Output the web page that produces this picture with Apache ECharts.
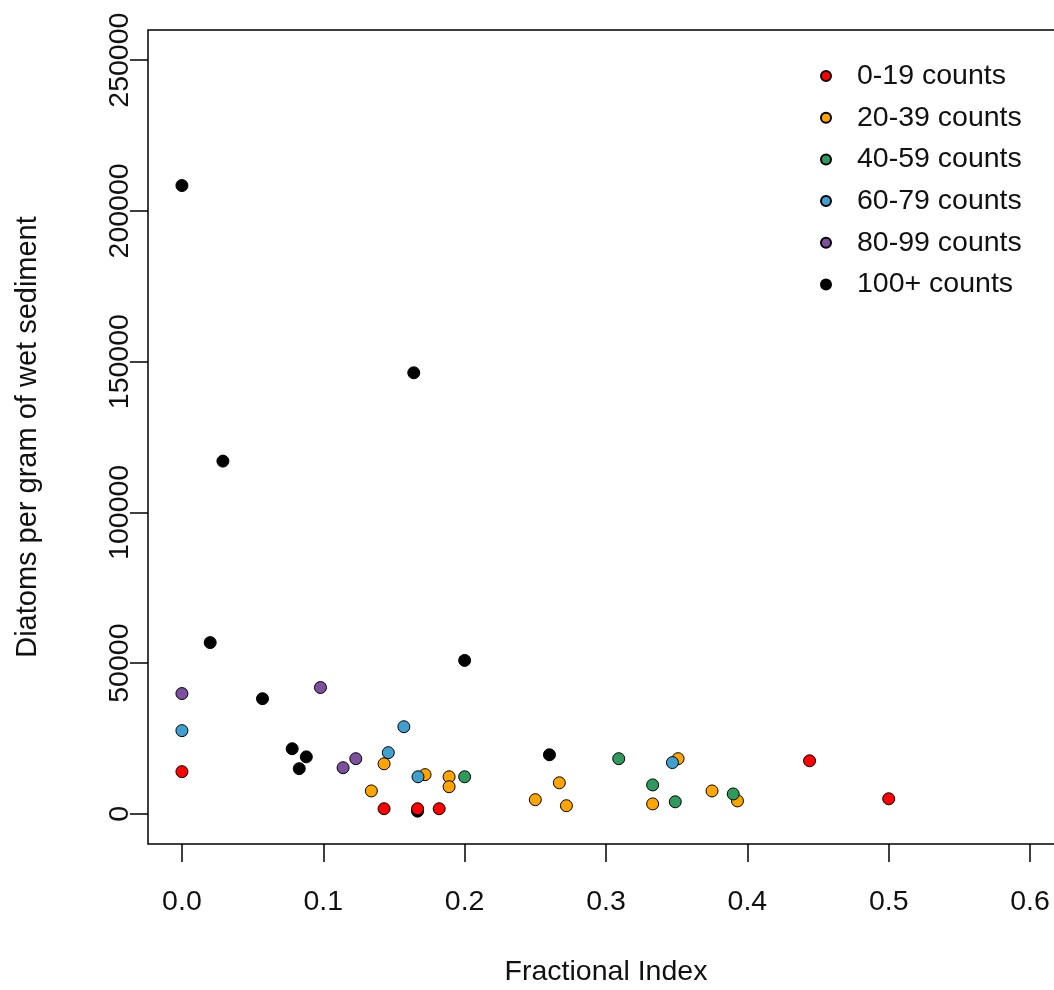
<!DOCTYPE html>
<html>
<head>
<meta charset="utf-8">
<script src="https://cdn.jsdelivr.net/npm/echarts@6/dist/echarts.min.js"></script>
<style>
  html, body { margin: 0; padding: 0; background: #fff; }
  #chart { width: 1054px; height: 990px; }
</style>
</head>
<body>
<div id="chart"></div>
<script>
// Count classes and their colours (legend order)
const classNames = ['0-19 counts', '20-39 counts', '40-59 counts', '60-79 counts', '80-99 counts', '100+ counts'];
const classColors = ['#ff0000', '#ffa500', '#2e9a5c', '#3f9fce', '#7d4f9f', '#000000'];

// [fractional index, diatoms per gram of wet sediment]
const counts0to19 = [[0, 14000], [0.143, 1700], [0.1667, 1700], [0.182, 1700], [0.444, 17600], [0.5, 5000]];
const counts20to39 = [[0.134, 7600], [0.143, 16600], [0.172, 13000], [0.189, 12300], [0.189, 9000], [0.25, 4700],
  [0.267, 10300], [0.272, 2700], [0.333, 3300], [0.351, 18300], [0.375, 7600], [0.393, 4300]];
const counts40to59 = [[0.2, 12300], [0.309, 18300], [0.333, 9600], [0.349, 4000], [0.39, 6600]];
const counts60to79 = [[0, 27600], [0.146, 20300], [0.157, 28900], [0.167, 12300], [0.347, 17000]];
const counts80to99 = [[0, 39900], [0.098, 41900], [0.114, 15300], [0.123, 18300]];
const counts100plus = [[0, 208400], [0.02, 56800], [0.029, 117000], [0.057, 38200], [0.078, 21600], [0.083, 15000],
  [0.088, 18900], [0.164, 146300], [0.1667, 900], [0.2, 50900], [0.26, 19600]];

const xTicks = [0, 0.1, 0.2, 0.3, 0.4, 0.5, 0.6];
const yTicks = [0, 50000, 100000, 150000, 200000, 250000];

const seriesData = [counts0to19, counts20to39, counts40to59, counts60to79, counts80to99, counts100plus];
// drawing order: later series sit on top
const drawOrder = [5, 1, 2, 3, 4, 0];

const font = '"Liberation Sans", Arial, sans-serif';
const ink = '#111';

const chart = echarts.init(document.getElementById('chart'), null, { renderer: 'canvas' });

chart.setOption({
  animation: false,
  backgroundColor: '#fff',
  textStyle: { fontFamily: font },
  grid: {
    left: 148, top: 30, width: 916, height: 814,
    outerBoundsMode: 'none',
    containLabel: false,
    show: true, borderColor: '#000', borderWidth: 1.5, backgroundColor: 'transparent'
  },
  legend: {
    data: classNames,
    orient: 'vertical',
    left: 820, top: 61,
    padding: 0,
    itemGap: 11.7,
    itemWidth: 52, itemHeight: 10,
    icon: 'circle',
    textStyle: { fontSize: 28.5, lineHeight: 30, color: ink, fontFamily: font },
    selectedMode: false
  },
  xAxis: {
    type: 'value',
    min: -0.024, max: 0.624,
    name: 'Fractional Index',
    nameLocation: 'middle',
    nameGap: 114,
    nameTextStyle: { fontSize: 28.5, color: ink, fontFamily: font },
    axisLine: { show: false, onZero: false },
    splitLine: { show: false },
    axisTick: { show: true, inside: false, length: 18, lineStyle: { color: '#000', width: 1.5 }, customValues: xTicks },
    axisLabel: {
      customValues: xTicks, margin: 44, fontSize: 28.5, color: ink, fontFamily: font,
      formatter: v => v.toFixed(1)
    }
  },
  yAxis: {
    type: 'value',
    min: -10000, max: 260000,
    name: 'Diatoms per gram of wet sediment',
    nameLocation: 'middle',
    nameRotate: 90,
    nameGap: 106,
    nameTextStyle: { fontSize: 29, color: ink, fontFamily: font },
    axisLine: { show: false, onZero: false },
    splitLine: { show: false },
    axisTick: { show: true, inside: false, length: 18, lineStyle: { color: '#000', width: 1.5 }, customValues: yTicks },
    axisLabel: {
      customValues: yTicks, rotate: 90, margin: 13, fontSize: 28.5, color: ink, fontFamily: font,
      formatter: v => String(v)
    }
  },
  series: drawOrder.map(i => ({
    name: classNames[i],
    type: 'scatter',
    data: seriesData[i],
    symbol: 'circle',
    symbolSize: 12,
    itemStyle: { color: classColors[i], borderColor: '#000', borderWidth: 1, opacity: 1 },
    emphasis: { disabled: true }
  }))
});
</script>
</body>
</html>
